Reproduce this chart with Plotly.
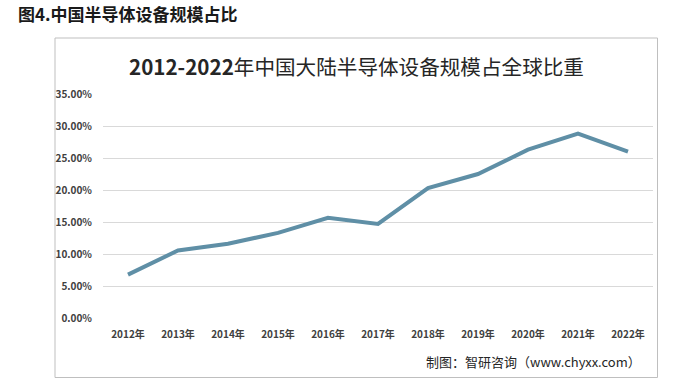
import plotly.graph_objects as go

years = ["2012年", "2013年", "2014年", "2015年", "2016年", "2017年",
         "2018年", "2019年", "2020年", "2021年", "2022年"]
share = [0.0677, 0.1056, 0.1160, 0.1330, 0.1565, 0.1470,
         0.2030, 0.2250, 0.2630, 0.2880, 0.2600]

W, H = 690, 382
L, R, T, B = 103, 653, 94, 318
pw, ph = R - L, B - T

def px(x):
    return (x - L) / pw

def py(y):
    return (B - y) / ph

FONT = "Noto Sans CJK SC"

fig = go.Figure()
fig.add_trace(go.Scatter(
    x=years, y=share, mode="lines",
    line=dict(color="#5F8FA6", width=4),
    hoverinfo="skip", showlegend=False,
))

fig.update_layout(
    width=W, height=H,
    margin=dict(l=L, r=W - R, t=T, b=H - B),
    paper_bgcolor="white", plot_bgcolor="white",
    font=dict(family=FONT, color="#404040"),
    xaxis=dict(showgrid=False, showline=False, ticks="",
               tickfont=dict(size=10, color="#404040", weight="bold"),
               range=[-0.5, 10.5], ticklabelstandoff=9),
    yaxis=dict(range=[0, 0.35], dtick=0.05, tickformat=".2%",
               showgrid=True, gridcolor="#D9D9D9", gridwidth=1,
               zeroline=False, showline=False, ticks="",
               tickfont=dict(size=10, color="#404040", weight="bold"),
               ticklabelstandoff=10),
    shapes=[dict(type="rect", xref="paper", yref="paper",
                 x0=px(55), x1=px(657.5), y0=py(377.5), y1=py(38),
                 line=dict(color="#BFBFBF", width=1), layer="below")],
    annotations=[
        dict(text="<b>图4.中国半导体设备规模占比</b>", xref="paper", yref="paper",
             x=px(16), y=py(14), xanchor="left", yanchor="middle",
             showarrow=False, font=dict(size=17, color="#1a1a1a", family=FONT)),
        dict(text="<b>2012-2022</b>年中国大陆半导体设备规模占全球比重",
             xref="paper", yref="paper", x=px(356), y=py(66),
             xanchor="center", yanchor="middle", showarrow=False,
             font=dict(size=20.6, color="#262626", family=FONT)),
        dict(text="制图：智研咨询（www.chyxx.com）", xref="paper", yref="paper",
             x=px(643), y=py(361), xanchor="right", yanchor="middle",
             showarrow=False, font=dict(size=13, color="#262626", family=FONT)),
    ],
)

fig.write_html("out.html", config={"displayModeBar": False},
               post_script="document.body.style.margin='0';")
